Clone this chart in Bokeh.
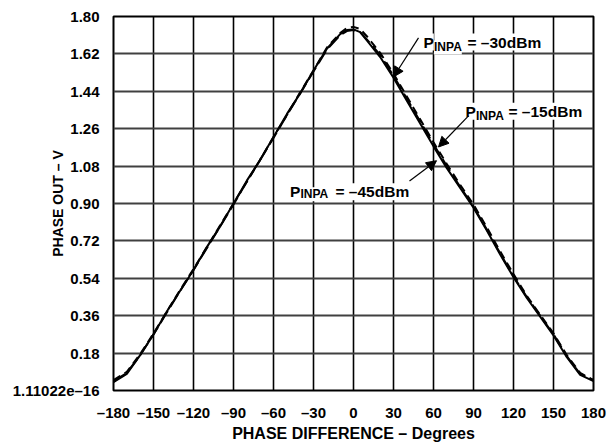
from bokeh.plotting import figure
from bokeh.models import FixedTicker, Label, Arrow, NormalHead, Range1d
from bokeh.embed import file_html
from bokeh.resources import INLINE

# ---- data ----
phase_deg = [-180, -170, -160, -150, -140, -130, -120, -110, -100, -90, -80, -70, -60, -50,
             -40, -30, -20, -10, -5, 0, 5, 10, 20, 30, 40, 50, 60, 70, 80, 90, 100, 110,
             120, 130, 140, 150, 160, 170, 180]
pout_m15 = [0.04, 0.08, 0.17, 0.27, 0.38, 0.48, 0.58, 0.69, 0.79, 0.90, 1.01, 1.11, 1.22, 1.33,
            1.43, 1.54, 1.645, 1.715, 1.735, 1.738, 1.725, 1.685, 1.605, 1.505, 1.395, 1.285,
            1.175, 1.07, 0.975, 0.88, 0.77, 0.655, 0.545, 0.445, 0.355, 0.265, 0.16, 0.075, 0.045]
pout_m30 = [0.05, 0.09, 0.175, 0.275, 0.38, 0.485, 0.585, 0.69, 0.795, 0.90, 1.005, 1.11, 1.22,
            1.325, 1.435, 1.54, 1.65, 1.72, 1.745, 1.75, 1.74, 1.705, 1.625, 1.525, 1.415, 1.305,
            1.195, 1.09, 0.99, 0.895, 0.785, 0.67, 0.56, 0.455, 0.365, 0.275, 0.17, 0.085, 0.05]
pout_m45 = [0.045, 0.085, 0.17, 0.27, 0.375, 0.48, 0.58, 0.685, 0.79, 0.895, 1.005, 1.11, 1.215,
            1.325, 1.43, 1.535, 1.64, 1.71, 1.73, 1.735, 1.725, 1.69, 1.615, 1.515, 1.405, 1.295,
            1.185, 1.08, 0.98, 0.885, 0.775, 0.66, 0.55, 0.45, 0.36, 0.27, 0.165, 0.08, 0.05]

x_ticks = [-180, -150, -120, -90, -60, -30, 0, 30, 60, 90, 120, 150, 180]
x_tick_labels = ["–180", "–150", "–120", "–90", "–60", "–30", "0", "30", "60", "90", "120", "150", "180"]
y_ticks = [0, 0.18, 0.36, 0.54, 0.72, 0.90, 1.08, 1.26, 1.44, 1.62, 1.80]
y_tick_labels = ["1.11022e–16", "0.18", "0.36", "0.54", "0.72", "0.90", "1.08", "1.26", "1.44", "1.62", "1.80"]

FONT = "Liberation Sans"

p = figure(width=613, height=444, x_range=Range1d(-180, 180), y_range=Range1d(0, 1.8),
           output_backend="svg", toolbar_location=None,
           min_border_left=113, min_border_right=20, min_border_top=16, min_border_bottom=44)
p.background_fill_color = "white"
p.border_fill_color = "white"
p.outline_line_color = "black"
p.outline_line_width = 2

xt = FixedTicker(ticks=x_ticks)
yt = FixedTicker(ticks=y_ticks)
p.xaxis.ticker = xt
p.yaxis.ticker = yt
p.xgrid.ticker = xt
p.ygrid.ticker = yt
p.xaxis.major_label_overrides = dict(zip(x_ticks, x_tick_labels))
p.yaxis.major_label_overrides = dict(zip(y_ticks, y_tick_labels))
for ax in (p.xaxis, p.yaxis):
    ax.major_tick_line_color = None
    ax.minor_tick_line_color = None
    ax.axis_line_color = None
    ax.major_label_text_font = FONT
    ax.major_label_text_font_style = "bold"
    ax.major_label_text_font_size = "15px"
    ax.major_label_text_color = "black"
    ax.axis_label_text_font = FONT
    ax.axis_label_text_font_style = "bold"
    ax.axis_label_text_color = "black"
p.xaxis.major_label_standoff = 7
p.yaxis.major_label_standoff = 8
p.xaxis.axis_label = "PHASE DIFFERENCE – Degrees"
p.xaxis.axis_label_text_font_size = "16px"
p.xaxis.axis_label_standoff = 1
p.yaxis.axis_label = "PHASE OUT – V"
p.yaxis.axis_label_text_font_size = "14px"
p.yaxis.axis_label_standoff = -56

p.xgrid.grid_line_color = "black"
p.xgrid.grid_line_width = 1.6
p.ygrid.grid_line_color = "#404040"
p.ygrid.grid_line_width = 2

p.line(phase_deg, pout_m15, line_color="black", line_width=2)
p.line(phase_deg, pout_m30, line_color="black", line_width=2, line_dash="8 5")
p.line(phase_deg, pout_m45, line_color="black", line_width=2, line_dash="14 5")


def annot(px, py, sx, sy, a_start, a_end, rest, restx):
    common = dict(text_align="left", text_baseline="alphabetic", text_font=FONT,
                  text_font_style="bold", text_color="black", background_fill_color="white")
    p.add_layout(Label(x=px, y=py, text="P", text_font_size="15.5px", **common))
    p.add_layout(Label(x=sx, y=sy, text="INPA", text_font_size="12px", **common))
    p.add_layout(Label(x=restx, y=py, text=rest, text_font_size="15.5px", **common))
    p.add_layout(Arrow(end=NormalHead(size=10, fill_color="black", line_color="black"),
                       x_start=a_start[0], y_start=a_start[1], x_end=a_end[0], y_end=a_end[1],
                       line_color="black", line_width=1.2))


annot_specs = [
    # P x, P y, sub x, sub y, arrow start, arrow end, text, text x
    (52.5, 1.677, 60.4, 1.651, (48.75, 1.697), (30.0, 1.509), "= –30dBm", 85.5),
    (84.0, 1.344, 91.9, 1.320, (86.25, 1.322), (63.75, 1.172), "= –15dBm", 116.25),
    (-47.6, 0.956, -39.75, 0.945, (42.0, 1.008), (62.25, 1.106), "= –45dBm", -13.5),
]
for a in annot_specs:
    annot(*a)

open("out.html", "w").write(file_html(p, INLINE))
